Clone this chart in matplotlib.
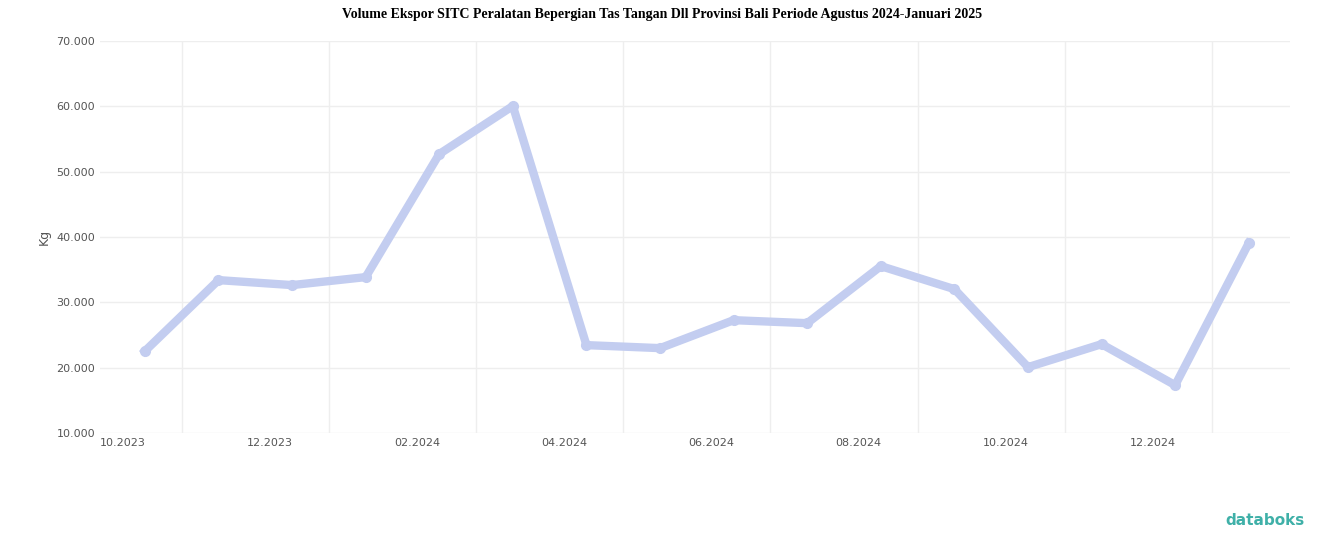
import matplotlib.pyplot as plt
import numpy as np

bulan = ["10.2023", "11.2023", "12.2023", "01.2024", "02.2024", "03.2024", "04.2024", "05.2024",
         "06.2024", "07.2024", "08.2024", "09.2024", "10.2024", "11.2024", "12.2024", "01.2025"]
volume = [22530, 33400, 32640, 33860, 52700, 60050, 23450, 22990,
          27270, 26810, 35540, 32020, 20080, 23600, 17320, 39070]
y_ticks = [10000, 20000, 30000, 40000, 50000, 60000, 70000]

fig = plt.figure(figsize=(13.24, 5.47), dpi=100)
ax = fig.add_axes([100 / 1324, 1 - 433 / 547, 1190 / 1324, 392 / 547])

x = np.arange(len(volume))
ax.plot(x, volume, color="#c3cdf0", lw=6, marker="o", ms=7, solid_joinstyle="round", zorder=3)

ax.set_xlim(-0.61, 15.56)
ax.set_ylim(10000, 70000)
ax.set_yticks(y_ticks)
ax.set_yticklabels([f"{v:,}".replace(",", ".") for v in y_ticks], fontsize=8, color="#555555")
ax.set_xticks(x[::2] - 0.3)
ax.set_xticklabels(bulan[::2], fontsize=8, color="#555555")
ax.set_xticks(x[::2] + 0.5, minor=True)
ax.tick_params(length=0, which="both")
ax.grid(axis="y", color="#eeeeee", lw=1)
ax.grid(axis="x", which="minor", color="#eeeeee", lw=1)
for s in ax.spines.values():
    s.set_visible(False)
ax.set_ylabel("Kg", fontsize=9, color="#555555")

fig.suptitle("Volume Ekspor SITC Peralatan Bepergian Tas Tangan Dll Provinsi Bali Periode Agustus 2024-Januari 2025",
             y=0.985, fontsize=10, fontweight="bold", family="Liberation Serif")
fig.text(0.985, 0.04, "databoks", ha="right", fontsize=11, color="#3fb0a8", fontweight="bold")

fig.savefig("out.png")
